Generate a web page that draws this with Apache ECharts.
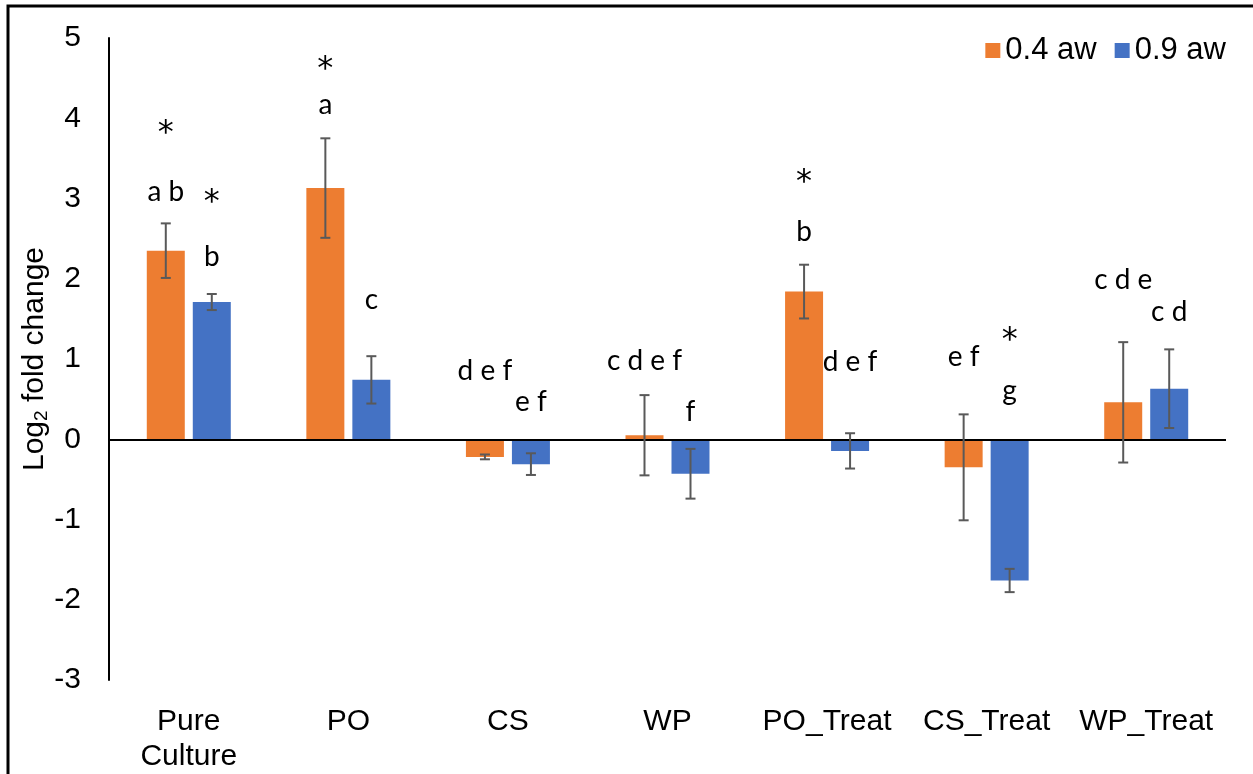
<!DOCTYPE html>
<html>
<head>
<meta charset="utf-8">
<script src="https://cdn.jsdelivr.net/npm/echarts@6/dist/echarts.min.js"></script>
<style>html,body{margin:0;padding:0;background:#fff;}#c{width:1253px;height:774px;}</style>
</head>
<body>
<div id="c"></div>
<script>
const categories = ['Pure\nCulture', 'PO', 'CS', 'WP', 'PO_Treat', 'CS_Treat', 'WP_Treat'];
const seriesNames = ['0.4 aw', '0.9 aw'];
const vals04 = [2.35, 3.13, -0.22, 0.05, 1.84, -0.35, 0.46];
const err04  = [0.34, 0.62, 0.03, 0.50, 0.335, 0.66, 0.75];
const vals09 = [1.71, 0.74, -0.31, -0.43, -0.145, -1.76, 0.63];
const err09  = [0.10, 0.295, 0.135, 0.31, 0.22, 0.145, 0.49];
// significance letters and asterisks, with their heights in data units
const letters04 = ['a b', 'a', 'd e f', 'c d e f', 'b', 'e f', 'c d e'];
const letterY04 = [3.08, 4.17, 0.85, 0.97, 2.58, 1.03, 1.98];
const letters09 = ['b', 'c', 'e f', 'f', 'd e f', 'g', 'c d'];
const letterY09 = [2.27, 1.74, 0.47, 0.34, 0.96, 0.60, 1.58];
const stars04 = ['*', '*', '', '', '*', '', ''];
const starY04 = [3.90, 4.69, 0, 0, 3.29, 0, 0];
const stars09 = ['*', '', '', '', '', '*', ''];
const starY09 = [3.03, 0, 0, 0, 0, 1.32, 0];
const yTicks = {min: -3, max: 5, interval: 1};

const ORANGE = '#ED7D31', BLUE = '#4472C4';
const BAR_W = 38, BAR_GAP = 8;
const half = (BAR_W + BAR_GAP) / 2;
const FONT = '"Liberation Sans", Arial, sans-serif';

function errSeries(vals, errs, side) {
  return {
    type: 'custom',
    silent: true,
    z: 5,
    data: vals.map((v, i) => [i, v, errs[i]]),
    renderItem: function (params, api) {
      const i = api.value(0), v = api.value(1), e = api.value(2);
      const hi = api.coord([i, v + e]);
      const lo = api.coord([i, v - e]);
      const x = hi[0] + side * half;
      const cap = 5;
      const st = {stroke: '#595959', lineWidth: 2};
      return {type: 'group', children: [
        {type: 'line', shape: {x1: x, y1: hi[1], x2: x, y2: lo[1]}, style: st},
        {type: 'line', shape: {x1: x - cap, y1: hi[1], x2: x + cap, y2: hi[1]}, style: st},
        {type: 'line', shape: {x1: x - cap, y1: lo[1], x2: x + cap, y2: lo[1]}, style: st}
      ]};
    }
  };
}

function textSeries(texts, ys, side, font, dy) {
  return {
    type: 'custom',
    silent: true,
    z: 6,
    data: texts.map((t, i) => [i, ys[i]]).filter((d) => texts[d[0]] !== ''),
    renderItem: function (params, api) {
      const i = api.value(0), y = api.value(1);
      const p = api.coord([i, y]);
      return {type: 'text', x: p[0] + side * half, y: p[1] + dy,
        style: {text: texts[i], fill: '#000', font: font,
          textAlign: 'center', textVerticalAlign: 'middle'}};
    }
  };
}

const chart = echarts.init(document.getElementById('c'), null, {renderer: 'canvas'});
chart.setOption({
  animation: false,
  backgroundColor: '#fff',
  textStyle: {fontFamily: FONT},
  graphic: [{type: 'rect', shape: {x: 8, y: 6, width: 1300, height: 820},
    style: {fill: 'none', stroke: '#000', lineWidth: 3}, silent: true, z: 100}],
  legend: {
    data: seriesNames,
    right: 22, top: 30,
    icon: 'rect', itemWidth: 15, itemHeight: 15, itemGap: 18,
    textStyle: {fontSize: 31, color: '#000', fontFamily: FONT, padding: [0, 0, 0, 0]}
  },
  grid: {left: 109, right: 27, top: 38, bottom: 93, containLabel: false},
  xAxis: {
    type: 'category',
    data: categories,
    axisLine: {show: false, onZero: false},
    axisTick: {show: false},
    axisLabel: {color: '#000', fontSize: 30, margin: 24, lineHeight: 35, interval: 0}
  },
  yAxis: {
    type: 'value',
    min: yTicks.min, max: yTicks.max, interval: yTicks.interval,
    axisLine: {show: true, lineStyle: {color: '#000', width: 2}},
    axisTick: {show: false},
    splitLine: {show: false},
    axisLabel: {color: '#000', fontSize: 30, margin: 28},
    name: '{a|Log}{s|2}{a| fold change}',
    nameLocation: 'middle',
    nameGap: 58,
    nameMoveOverlap: false,
    nameTextStyle: {rich: {
      a: {fontSize: 30, color: '#000', fontFamily: FONT},
      s: {fontSize: 19, color: '#000', fontFamily: FONT, verticalAlign: 'bottom', padding: [14, 0, 0, 0]}
    }}
  },
  series: [
    {name: seriesNames[0], type: 'bar', data: vals04, barWidth: BAR_W, barGap: (BAR_GAP / BAR_W * 100) + '%',
      itemStyle: {color: ORANGE},
      markLine: {silent: true, symbol: 'none', label: {show: false},
        lineStyle: {color: '#000', width: 2, type: 'solid'}, data: [{yAxis: 0}], z: 4}},
    {name: seriesNames[1], type: 'bar', data: vals09, barWidth: BAR_W, itemStyle: {color: BLUE}},
    errSeries(vals04, err04, -1),
    errSeries(vals09, err09, 1),
    textSeries(letters04, letterY04, -1, '28px Lato, ' + FONT, 0),
    textSeries(letters09, letterY09, 1, '28px Lato, ' + FONT, 0),
    textSeries(stars04, starY04, -1, '32px "DejaVu Sans", sans-serif', 7),
    textSeries(stars09, starY09, 1, '32px "DejaVu Sans", sans-serif', 7)
  ]
});
</script>
</body>
</html>
